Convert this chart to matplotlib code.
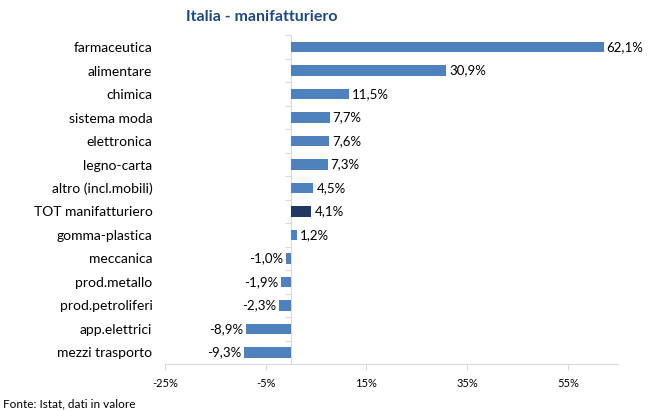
import matplotlib
import numpy as np

matplotlib.use("Agg")
import matplotlib.pyplot as plt  # noqa: E402

plt.rcParams["font.family"] = ["Lato", "DejaVu Sans"]

categories = [
    "farmaceutica", "alimentare", "chimica", "sistema moda", "elettronica",
    "legno-carta", "altro (incl.mobili)", "TOT manifatturiero",
    "gomma-plastica", "meccanica", "prod.metallo", "prod.petroliferi",
    "app.elettrici", "mezzi trasporto",
]
values = [62.1, 30.9, 11.5, 7.7, 7.6, 7.3, 4.5, 4.1, 1.2, -1.0, -1.9, -2.3, -8.9, -9.3]
highlight = "TOT manifatturiero"
xticks = [-25, -5, 15, 35, 55]

BAR = "#4F81BD"
DARK = "#1F3864"
AXIS = "#D9D9D9"

fig = plt.figure(figsize=(6.57, 4.11), dpi=100)
ax = fig.add_axes([0.251, 0.114, 0.690, 0.800])

y = np.arange(len(categories))
colors = [DARK if c == highlight else BAR for c in categories]
ax.barh(y, values, height=0.45, color=colors, zorder=2)

for yi, v in zip(y, values):
    label = f"{v:.1f}%".replace(".", ",")
    if v >= 0:
        ax.text(v + 0.6, yi, label, ha="left", va="center", fontsize=9.5)
    else:
        ax.text(v - 0.6, yi, label, ha="right", va="center", fontsize=9.5)

ax.set_xlim(-25, 65)
ax.set_ylim(len(categories) - 0.5, -0.5)
ax.set_xticks(xticks)
ax.set_xticklabels([f"{t}%" for t in xticks], fontsize=8)
ax.set_yticks(y)
ax.set_yticklabels(categories, fontsize=10)
ax.tick_params(axis="y", length=0, pad=9)
ax.tick_params(axis="x", length=4, color=AXIS, pad=6)

for side in ("top", "right", "left"):
    ax.spines[side].set_visible(False)
ax.spines["bottom"].set_color(AXIS)

# category axis drawn at zero, with tick marks between categories
zero_pos = (0 - (-25)) / (65 - (-25))
sec = ax.secondary_yaxis(zero_pos)
sec.set_yticks(np.arange(len(categories) + 1) - 0.5)
sec.set_yticklabels([])
sec.tick_params(length=4, color=AXIS)
sec.spines["left"].set_color(AXIS)

fig.suptitle("Italia - manifatturiero", x=0.398, y=0.975, fontsize=11.5,
             fontweight="bold", color="#1F497D")
fig.text(0.005, 0.008, "Fonte: Istat, dati in valore", fontsize=8.5)

fig.savefig("out.png", dpi=100)
plt.close(fig)
